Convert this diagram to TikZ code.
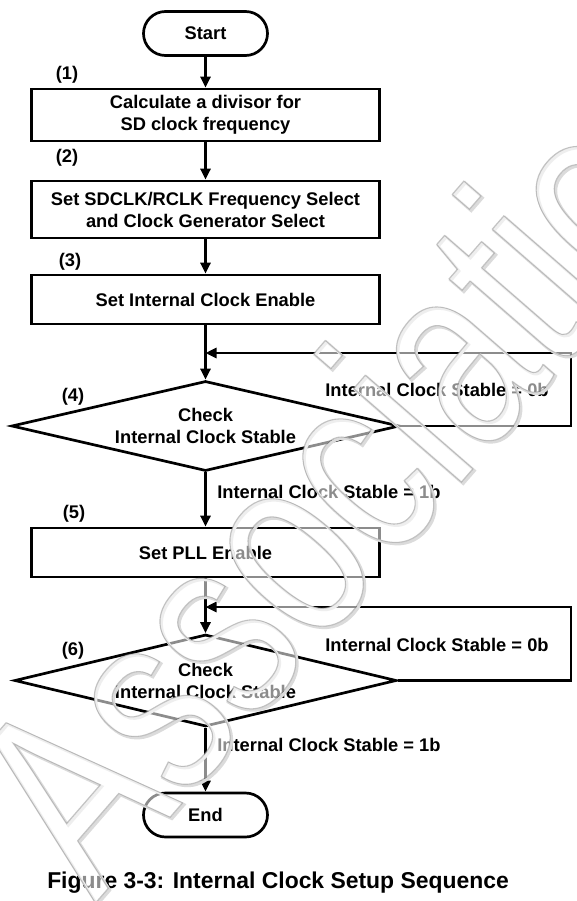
\documentclass[tikz,border=0pt]{standalone}
\usepackage{fontspec}
\setmainfont{Liberation Sans}
\usetikzlibrary{arrows.meta,shapes.geometric}
\begin{document}
\begin{tikzpicture}[x=1pt,y=-1pt,line width=2.7pt,
  every node/.style={font=\fontsize{18.3}{22}\selectfont\bfseries},
  box/.style={draw,rectangle,minimum width=348pt,align=center,inner sep=0pt},
  term/.style={draw,rectangle,rounded corners=22pt,minimum width=124pt,minimum height=44pt,inner sep=0pt},
  dec/.style={draw,diamond,aspect=4.3,inner sep=0pt,align=center},
  lbl/.style={inner sep=0pt},
  flow/.style={-{Triangle[length=11pt,width=10pt]}},
  wm/.style={font=\fontsize{200}{200}\selectfont\mdseries,rotate=49,yscale=1.35,inner sep=0pt}]
\useasboundingbox[fill=white] (0,0) rectangle (577,901);
% nodes
\node[term] (start) at (205.5,33.5) {Start};
\node[box,minimum height=52pt] (b1) at (205.5,115) {Calculate a divisor for\\SD clock frequency};
\node[box,minimum height=57pt] (b2) at (205.5,209.5) {Set SDCLK/RCLK Frequency Select\\and Clock Generator Select};
\node[box,minimum height=49pt] (b3) at (205.5,299.5) {Set Internal Clock Enable};
\node[dec,minimum width=388pt,minimum height=90pt] (d4) at (205.5,426) {Check\\Internal Clock Stable};
\node[box,minimum height=49pt] (b5) at (205.5,552.5) {Set PLL Enable};
\node[dec,minimum width=382pt,minimum height=92pt] (d6) at (205.5,680.5) {Check\\Internal Clock Stable};
\node[term] (end) at (205.5,815) {End};
% step labels
\node[lbl] (l1) at (67,75) {(1)};
\node[lbl] (l2) at (67,158) {(2)};
\node[lbl] (l3) at (70,262) {(3)};
\node[lbl] (l4) at (73,397) {(4)};
\node[lbl] (l5) at (74,514) {(5)};
\node[lbl] (l6) at (73,651) {(6)};
\node[lbl] (n4) at (437,390) {Internal Clock Stable = 0b};
\node[lbl,anchor=west] (y4) at (216,492) {Internal Clock Stable = 1b};
\node[lbl] (n6) at (437,645) {Internal Clock Stable = 0b};
\node[lbl,anchor=west] (y6) at (216,745) {Internal Clock Stable = 1b};
\node[lbl,font=\fontsize{22.9}{26}\selectfont\bfseries] (cap) at (278,883) {Figure 3-3: Internal Clock Setup Sequence};
% helper coordinates
\coordinate (r4) at (571,426);
\coordinate (j4) at (205.5,353);
\coordinate (r6) at (571,680.5);
\coordinate (j6) at (205.5,607);
% connectors
\draw[flow] (start) -- (b1);
\draw[flow] (b1) -- (b2);
\draw[flow] (b2) -- (b3);
\draw[flow] (b3) -- (d4);
\draw[flow] (d4.east) -- (r4) |- (j4);
\draw[flow] (d4) -- (b5);
\draw[flow] (b5) -- (d6);
\draw[flow] (d6.east) -- (r6) |- (j6);
\draw[flow] (d6) -- (end);
% watermark
\node[wm,text=black!14] (wmshadow) at (359.5,455.5) {\special{pdf:literal direct 1 Tr 2.4 w}Association\special{pdf:literal direct 0 Tr}};
\node[wm,text=black!42,text opacity=0.55] (wmark) at (358,454) {\special{pdf:literal direct 2 Tr 0.9 w 1 g}Association\special{pdf:literal direct 0 Tr}};
\end{tikzpicture}
\end{document}
